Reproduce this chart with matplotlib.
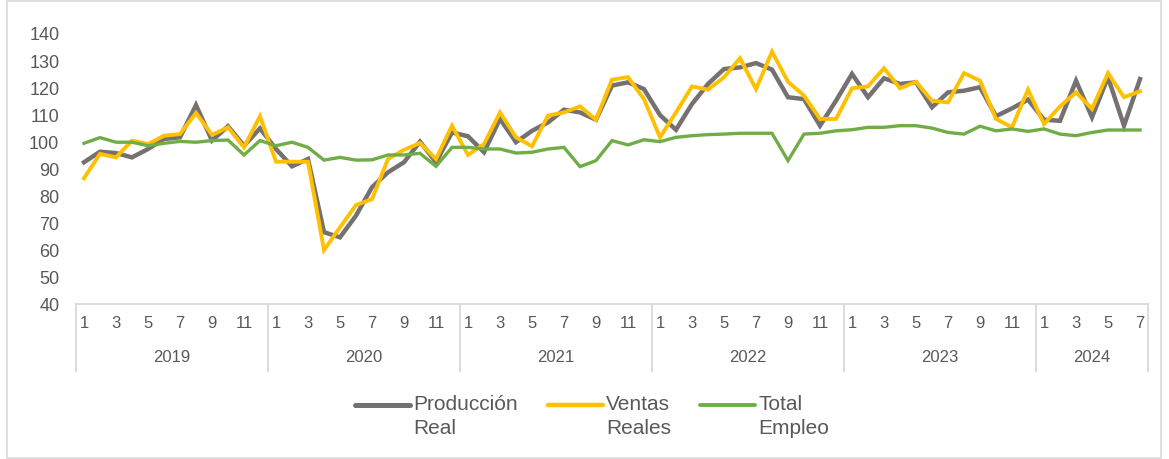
import matplotlib
matplotlib.use("Agg")
import matplotlib.pyplot as plt
from matplotlib.lines import Line2D
from matplotlib.patches import Rectangle
import matplotlib.transforms as mtransforms

plt.rcParams['font.family'] = ['Liberation Sans', 'DejaVu Sans']

years = [2019, 2020, 2021, 2022, 2023, 2024]
months_per_year = [12, 12, 12, 12, 12, 7]

produccion_real = [
    92.3, 96.2, 95.7, 94.1, 97.2, 100.9, 101.5, 113.4, 100.3, 105.6, 98.4, 104.8,
    97.2, 90.8, 93.5, 66.5, 64.6, 72.6, 83.1, 88.6, 92.3, 99.9, 92.3, 103.3,
    101.9, 96.0, 108.3, 99.7, 103.9, 107.0, 111.7, 110.7, 108.0, 120.6, 121.8, 119.3,
    109.7, 104.3, 113.8, 121.2, 126.7, 127.3, 128.9, 126.5, 116.3, 115.6, 105.8, 115.0,
    124.9, 116.3, 123.3, 121.2, 121.8, 112.6, 118.1, 118.7, 120.0, 109.3, 112.2, 115.4,
    108.0, 107.6, 122.4, 108.9, 123.7, 105.8, 123.0,
]
ventas_reales = [
    86.4, 95.4, 94.1, 100.3, 99.0, 102.1, 102.7, 110.5, 102.4, 105.2, 97.8, 109.3,
    92.5, 92.5, 92.5, 59.9, 68.3, 76.5, 78.7, 93.5, 96.9, 99.4, 93.5, 105.8,
    95.0, 99.0, 110.7, 101.5, 98.2, 109.5, 110.7, 112.9, 108.0, 122.8, 123.7, 115.6,
    101.5, 110.7, 120.3, 119.1, 123.7, 130.7, 119.3, 133.1, 122.0, 116.9, 108.3, 108.3,
    119.6, 120.3, 127.0, 119.6, 122.0, 115.0, 114.4, 125.2, 122.4, 108.3, 105.2, 119.1,
    106.4, 112.9, 118.1, 112.0, 125.2, 116.3, 118.5,
]
total_empleo = [
    99.3, 101.4, 99.7, 99.7, 98.4, 99.3, 100.0, 99.7, 100.3, 100.5, 95.0, 100.3,
    98.4, 99.7, 97.8, 93.1, 94.1, 93.1, 93.2, 95.0, 95.0, 95.6, 90.8, 97.8,
    97.8, 97.2, 97.2, 95.7, 96.0, 97.2, 97.8, 90.7, 92.9, 100.3, 98.7, 100.6,
    99.9, 101.5, 102.1, 102.5, 102.7, 103.0, 103.0, 103.0, 92.9, 102.7, 103.0, 103.9,
    104.3, 105.2, 105.2, 105.8, 105.8, 104.9, 103.3, 102.7, 105.6, 103.9, 104.6, 103.7,
    104.6, 102.7, 102.1, 103.3, 104.2, 104.2, 104.2,
]
series_names = ["Producción\nReal", "Ventas\nReales", "Total\nEmpleo"]
series_colors = ["#767171", "#FFC000", "#70AD47"]
y_ticks = list(range(40, 141, 10))

W, H = 1169, 460
fig = plt.figure(figsize=(W / 100, H / 100), dpi=100)
ax = fig.add_axes([76 / W, 1 - 305 / H, (1148 - 76) / W, (305 - 34) / H])

month_labels = []
for y, n in zip(years, months_per_year):
    for m in range(1, n + 1):
        month_labels.append(str(m) if m % 2 == 1 else "")
x = list(range(len(month_labels)))

data = [produccion_real, ventas_reales, total_empleo]
widths = [3.2, 2.8, 2.4]
for vals, col, lw in zip(data, series_colors, widths):
    ax.plot(x, vals, color=col, lw=lw, solid_joinstyle='miter')

ax.set_xlim(-0.5, len(x) - 0.5)
ax.set_ylim(40, 140)
ax.set_yticks(y_ticks)
ax.set_yticklabels([str(v) for v in y_ticks], fontsize=13, color="#595959")
ax.set_xticks(x)
ax.set_xticklabels(month_labels, fontsize=12, color="#595959")
ax.tick_params(axis='both', length=0)
ax.tick_params(axis='y', pad=12)
ax.tick_params(axis='x', pad=8)
for s in ['left', 'right', 'top']:
    ax.spines[s].set_visible(False)
ax.spines['bottom'].set_color("#D9D9D9")
ax.spines['bottom'].set_linewidth(1.3)

trans = mtransforms.blended_transform_factory(ax.transData, ax.transAxes)
start = -0.5
bounds = [start]
for n in months_per_year:
    bounds.append(bounds[-1] + n)
for b in bounds:
    ax.add_line(Line2D([b, b], [0, -0.248], transform=trans, color="#D9D9D9",
                       lw=1.3, clip_on=False))
for i, yv in enumerate(years):
    mid = (bounds[i] + bounds[i + 1]) / 2
    ax.text(mid, -0.195, str(yv), transform=trans, ha='center', va='center',
            fontsize=12, color="#595959")

# legend
leg_y = 1 - 406 / H
leg_items = [(355, 410), (548, 603), (700, 755)]
for (x0, x1), name, col, lw in zip(leg_items, series_names, series_colors, widths):
    fig.add_artist(Line2D([x0 / W, x1 / W], [leg_y, leg_y], color=col, lw=lw + 0.4,
                          solid_capstyle='round', transform=fig.transFigure))
    fig.text((x1 + 3) / W, 1 - 395 / H, name, ha='left', va='top', fontsize=15,
             color="#595959", linespacing=1.35)

fig.add_artist(Rectangle((7 / W, 1 / H), (1161 - 7) / W, (458 - 1) / H,
                         transform=fig.transFigure, fill=False,
                         edgecolor="#D9D9D9", lw=1.2))

fig.savefig("out.png", dpi=100)
